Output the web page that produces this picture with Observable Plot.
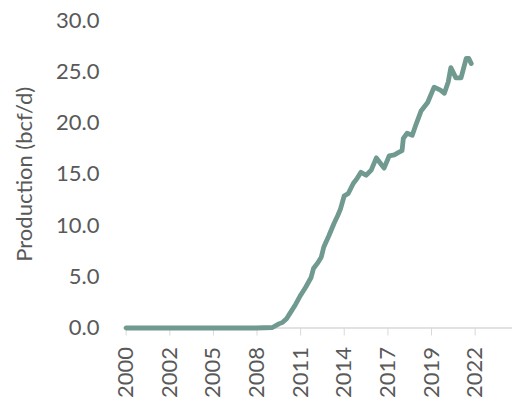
<!DOCTYPE html>
<html><head><meta charset="utf-8">
<script src="https://cdn.jsdelivr.net/npm/d3@7"></script>
<script src="https://cdn.jsdelivr.net/npm/@observablehq/plot@0.6"></script>
<style>body{margin:0;background:#fff} svg{display:block}</style>
</head><body><div id="chart"></div>
<script>
const months = ["2000-01","2004-06","2008-06","2009-07","2009-12","2010-03","2010-06","2010-09","2011-01","2011-05","2011-09","2012-01","2012-03","2012-06","2012-09","2012-11","2013-03","2013-07","2013-10","2013-12","2014-03","2014-06","2014-10","2015-01","2015-04","2015-08","2015-12","2016-04","2016-07","2016-10","2017-02","2017-06","2017-09","2017-12","2018-01","2018-04","2018-08","2018-11","2019-03","2019-08","2020-01","2020-06","2020-09","2020-12","2021-02","2021-06","2021-10","2022-02","2022-04","2022-06"];
const production = [0.0,0.0,0.0,0.05,0.4,0.55,0.9,1.5,2.3,3.2,4.0,4.9,5.8,6.3,6.9,7.9,9.0,10.2,11.0,11.6,12.9,13.1,14.1,14.6,15.2,14.9,15.4,16.6,16.1,15.6,16.8,16.9,17.1,17.3,18.5,19.0,18.8,19.9,21.2,22.0,23.5,23.2,22.9,24.0,25.4,24.4,24.4,26.3,26.3,25.8];
const tickMonths = ["2000-01","2002-11","2005-09","2008-07","2011-05","2014-03","2017-01","2019-11","2022-09"];
const yTicks = [0,5,10,15,20,25,30];
const yLabel = "Production (bcf/d)";

const parse = d3.utcParse("%Y-%m");
const data = months.map((m, i) => ({date: parse(m), value: production[i]}));
const tickDates = tickMonths.map(parse);

const chart = Plot.plot({
  width: 512, height: 402,
  marginTop: 20, marginBottom: 74.5, marginLeft: 123, marginRight: 0,
  style: {fontFamily: "Lato", fontSize: "22px", color: "#595959", background: "#fff"},
  x: {type: "utc", domain: [new Date("1999-10-29"), new Date("2025-02-03")]},
  y: {domain: [0, 30]},
  marks: [
    Plot.ruleY([0], {stroke: "#d9d9d9", strokeWidth: 1.5}),
    Plot.axisX({ticks: tickDates, tickFormat: d3.utcFormat("%Y"), tickRotate: -90, tickSize: 8, tickPadding: 11, stroke: "#d9d9d9", fill: "#595959", label: null}),
    Plot.axisY({ticks: yTicks, tickFormat: d => d.toFixed(1), tickSize: 0, tickPadding: 24, fill: "#595959", label: yLabel, labelAnchor: "center", labelArrow: "none", labelOffset: 107}),
    Plot.line(data, {x: "date", y: "value", stroke: "#70998f", strokeWidth: 4.8, strokeLinejoin: "round", strokeLinecap: "round"})
  ]
});
document.getElementById("chart").append(chart);
</script>
</body></html>
